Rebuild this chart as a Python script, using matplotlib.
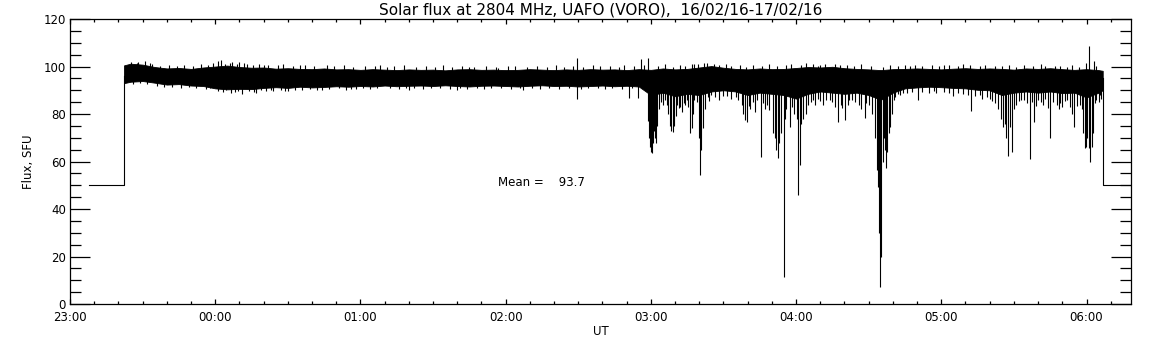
import matplotlib
matplotlib.use("Agg")
import matplotlib.pyplot as plt
from matplotlib.ticker import MultipleLocator

# time axis: minutes after 23:00 UT (16/02/16)
lead_t = [7.9, 22.3, 22.3]
lead_v = [50, 50, 96]
tail_t = [426.7, 426.7, 450]
tail_v = [95, 50, 50]

# envelope of the noise band
band_t = [22.3, 25, 30, 35, 40, 45, 50, 55, 60, 65, 70, 75, 80, 85, 90, 95,
          100, 105, 110, 115, 120, 125, 130, 135, 140, 145, 150, 155, 160, 165,
          170, 175, 180, 185, 190, 195, 200, 205, 210, 215, 220, 225, 230, 235,
          240, 245, 250, 255, 260, 265, 270, 275, 280, 285, 290, 295, 300, 305,
          310, 315, 320, 325, 330, 335, 340, 345, 350, 355, 360, 365, 370, 375,
          380, 385, 390, 395, 400, 405, 410, 415, 420, 425, 426.7]
band_hi = [100.5, 101.2, 100.8, 99.8, 99.2, 99.4, 99.0, 99.6, 100.0, 100.4, 99.8,
           99.5, 99.6, 99.1, 99.3, 99.0, 98.9, 99.2, 98.8, 98.9, 98.6, 98.9, 98.7,
           98.5, 98.8, 98.6, 98.7, 98.4, 98.8, 98.9, 98.6, 98.7, 98.5, 98.6, 98.9,
           98.7, 98.5, 98.8, 98.6, 98.9, 98.7, 98.8, 98.5, 98.9, 98.6, 99.2, 98.8,
           99.0, 99.6, 100.2, 99.5, 99.0, 98.8, 99.2, 98.9, 99.0, 99.4, 99.8, 99.6,
           99.9, 99.3, 99.0, 98.8, 98.5, 98.9, 99.0, 99.2, 99.0, 98.8, 99.1, 99.3,
           99.0, 99.2, 99.0, 98.7, 99.2, 99.0, 99.3, 98.9, 98.6, 98.9, 98.5, 98.2]
band_lo = [93.0, 93.6, 93.9, 93.2, 92.4, 92.6, 92.0, 91.8, 90.8, 90.4, 90.6, 90.5,
           91.0, 91.3, 91.0, 91.5, 91.2, 91.4, 91.7, 91.5, 91.8, 91.6, 92.0, 91.7,
           91.9, 92.0, 91.8, 92.1, 91.8, 91.6, 91.9, 92.0, 91.8, 91.6, 91.9, 92.1,
           91.8, 91.9, 91.6, 91.8, 92.0, 91.7, 91.9, 91.6, 88.0, 89.0, 87.5, 88.5,
           88.0, 89.5, 90.0, 89.5, 88.0, 89.0, 88.5, 88.0, 86.5, 88.5, 89.5, 89.0,
           88.5, 89.0, 88.0, 86.0, 89.0, 90.8, 91.2, 91.5, 91.3, 91.0, 90.8, 90.2,
           90.0, 88.0, 89.0, 89.5, 89.0, 89.5, 88.8, 89.0, 87.0, 89.0, 90.0]

# fine sample-to-sample scatter on the upper edge
fuzz_up_t = [25, 27.5, 31, 34, 37, 41, 44, 47, 51, 54, 57, 59, 61, 64, 67, 69, 72,
             75.5, 78, 82, 86, 88, 92, 97, 101, 106, 109, 113, 117, 122, 126, 131,
             134, 138, 143, 147, 151, 154, 158, 162, 167, 172, 176, 181, 184, 189,
             193, 197, 201, 204, 208, 212, 216, 219, 223, 227, 229, 233, 237,
             243, 246, 249, 252, 254, 257, 259.5, 263, 266, 268, 271, 273, 277,
             279.5, 282, 286, 289, 292, 296, 298, 302, 304, 307, 309, 312, 316,
             321, 324, 327, 331, 336, 339, 342, 345, 349, 352, 356, 359, 363, 367,
             369, 372, 376, 378, 382, 388, 391, 394, 398, 401, 403, 409, 412, 414,
             417, 424]
fuzz_up_v = [102.0, 101.6, 102.2, 101.0, 100.3, 100.6, 100.2, 100.8, 100.4, 100.9,
             100.5, 101.3, 102.5, 101.2, 101.8, 100.9, 101.5, 100.6, 101.2, 100.7,
             100.5, 101.0, 100.4, 100.6, 100.2, 100.8, 100.1, 100.5, 100.0, 100.3,
             100.4, 99.9, 100.2, 100.6, 99.8, 100.3, 100.0, 100.5, 99.9, 100.4,
             100.0, 100.3, 99.8, 100.1, 100.4, 99.9, 100.3, 100.0, 100.5, 99.8,
             100.2, 100.0, 100.6, 100.1, 100.3, 99.9, 100.8, 100.2, 100.6,
             100.4, 101.0, 99.8, 100.6, 100.2, 100.9, 101.2, 101.6, 101.0, 100.6,
             101.1, 100.3, 100.5, 100.0, 100.7, 100.4, 100.9, 100.2, 100.8, 101.2,
             100.6, 101.3, 101.0, 100.4, 101.1, 101.2, 100.8, 100.3, 100.9, 100.2,
             100.0, 100.6, 100.2, 100.6, 100.8, 100.3, 100.6, 100.1, 100.7, 100.4,
             101.0, 100.5, 100.2, 100.8, 100.4, 100.6, 100.0, 100.7, 100.3, 100.9,
             100.2, 100.4, 100.0, 100.6, 99.9, 100.2]

# fine sample-to-sample scatter on the lower edge
fuzz_dn_t = [26, 29, 32, 36, 39, 42, 46, 49, 52, 56, 58, 61, 63, 64.5, 68, 69.5,
             74, 77, 79, 81, 83, 87, 89, 93, 96, 99, 102, 107, 111, 114, 116, 121,
             124, 127, 132, 136, 139, 142, 146, 149, 153, 157, 161, 164, 168, 171,
             174, 178, 182, 186, 191, 194, 198, 202, 206, 211, 214, 218, 221, 224,
             228, 232, 237,
             244, 246.5, 251.5, 253.5, 255.5, 258, 263.5, 264, 266.5, 268, 271.5,
             273, 276, 277.5, 280.5, 282, 284, 286.5, 287, 289, 296, 298.5, 306,
             308, 309, 311, 312.5, 315, 316, 319, 321.5, 322, 324.5, 327, 329,
             341, 342, 344, 346, 348, 352, 355, 357, 361, 363, 367, 369, 371, 374,
             377, 379, 381, 382, 391, 392, 394, 395.5, 397.5, 399, 400, 402, 404,
             406, 408.5, 409, 411, 413, 414, 416, 418, 423.5, 425, 426]
fuzz_dn_v = [92.6, 93.0, 92.8, 92.0, 91.4, 91.5, 91.0, 91.3, 90.8, 90.5, 90.9,
             89.6, 89.3, 90.0, 89.2, 89.8, 89.6, 89.0, 90.0, 89.7, 90.2, 90.0,
             89.5, 90.3, 90.1, 90.6, 90.0, 90.4, 90.8, 90.2, 90.6, 90.9, 90.4,
             90.8, 91.0, 90.5, 90.8, 91.0, 90.6, 90.9, 91.1, 90.7, 91.0, 90.6,
             90.9, 90.4, 91.0, 90.8, 90.5, 90.9, 91.0, 90.6, 90.9, 90.7, 91.0,
             90.5, 90.8, 91.0, 90.6, 90.9, 90.5, 90.8, 90.4,
             86.5, 84.0, 82.5, 84.5, 83.0, 86.0, 87.0, 85.5, 87.2, 86.0, 87.5,
             86.5, 85.8, 84.0, 83.5, 85.0, 86.0, 84.5, 82.0, 81.5, 82.0, 83.0, 85.0,
             84.0, 86.5, 84.0, 86.0, 85.0, 83.0, 82.5, 84.0, 86.0, 85.0, 82.0, 84.5,
             87.0, 88.5, 89.0, 88.8, 89.2, 89.3, 88.8, 89.6, 89.2, 88.9, 89.0,
             88.5, 88.0, 87.5, 86.5, 87.0, 85.5, 84.5, 84.0, 85.5, 86.0, 84.5,
             85.0, 83.5, 86.0, 84.0, 82.5, 85.0, 82.0, 84.5, 85.5, 83.0, 80.0,
             83.5, 82.0, 84.5, 85.0, 86.5]

# isolated spikes and dips (radio interference)
spike_t = [28, 33, 62.5, 66, 70, 73, 80, 95, 128, 165, 177, 209.4, 236, 238.8,
           258, 262, 310, 318, 347, 361, 385, 407, 419.8, 421.2, 423,
           66.5, 71, 76, 84, 90, 104, 118, 140, 160, 187, 209.6, 231, 234.7,
           239.0, 239.4, 239.8, 240.2, 240.6, 241.0, 241.4, 241.8, 242.2, 242.6,
           243.2, 244.2, 245.0, 246.0, 247.2, 247.8, 248.4, 249.0, 249.6, 250.2,
           251, 252, 253, 254, 255, 256.2, 256.8, 257.6, 259, 260.0, 260.4, 260.9,
           261.5, 262.2, 265, 270, 275, 278.1, 279, 279.8, 281, 283.1, 285.5, 288,
           290.5, 291.2, 291.8, 292.4, 293, 293.6, 294.8, 295.5, 297.5, 299, 300.4,
           300.8, 301.5, 302.2, 303, 304, 305, 307, 310, 314, 317.4, 318.5, 320.2,
           323, 326, 328.5, 330, 331.5, 332.5, 333.3, 334.0, 334.4, 334.7, 335.2,
           335.8, 336.4, 336.8, 337.2, 337.6, 338.3, 338.8, 339.5, 340.5, 343,
           350.5, 358, 365, 372.2, 376, 380, 383.5, 384.5, 385.5, 386.2, 386.8,
           387.7, 388.4, 389.1, 390, 393, 396.7, 398.3, 401, 403, 405, 407.9, 410,
           412, 415, 417.4, 418.6, 419.2, 419.8, 420.4, 421.0, 421.5, 422.1, 422.7,
           424, 425.5]
spike_v = [101.8, 101.5, 102.7, 101.5, 101.8, 101.0, 100.8, 100.5, 100.7, 100.0,
           99.5, 103.4, 103.0, 103.4, 101.0, 101.5, 100.5, 100.8, 100.2, 100.5,
           100.3, 100.3, 101.5, 108.6, 102.5,
           89.0, 88.5, 89.3, 89.5, 89.8, 90.0, 90.5, 90.3, 90.2, 90.2, 86.2, 86.7, 86.7,
           77, 70, 66, 64, 63.7, 68, 73, 70, 68, 75,
           82, 85, 84, 86, 80, 75, 73, 72.5, 75, 79,
           84, 83, 81, 84, 86, 72, 74, 80, 85, 70, 54.5, 65,
           74, 82, 88, 87.5, 87, 80, 77.5, 76.8, 82, 81, 62, 84,
           72, 70, 65, 61.5, 68, 72, 11.5, 78, 74.5, 80, 78,
           46, 58.5, 76, 78, 80, 84, 86, 85.5, 86, 76.8, 84, 77.5,
           86, 84, 78.5, 84, 80, 70, 56.4, 49.2, 30, 7.3, 20,
           60, 70, 64.8, 57.2, 64, 72, 74.6, 80, 86, 88,
           85.9, 89, 87.5, 81.4, 88, 86.5, 82, 78, 74.6, 76, 70,
           62.5, 74.6, 64, 82, 86, 60.9, 76.8, 85, 86.5, 70, 84, 83,
           86, 74.5, 84, 72, 65.5, 66, 70, 65.5, 59.7, 66, 72,
           86, 88]

mean_flux = 93.7
x_ticks = [0, 60, 120, 180, 240, 300, 360, 420]
x_labels = ["23:00", "00:00", "01:00", "02:00", "03:00", "04:00", "05:00", "06:00"]

fig = plt.figure(figsize=(11.52, 3.45), dpi=100)
ax = fig.add_axes([0.0608, 0.1188, 0.921, 0.826])

ax.fill_between(band_t, band_lo, band_hi, color="black", linewidth=0.6)
ax.vlines(fuzz_up_t, 95, fuzz_up_v, color="black", linewidth=0.8)
ax.vlines(fuzz_dn_t, 95, fuzz_dn_v, color="black", linewidth=0.8)
ax.vlines(spike_t, 95, spike_v, color="black", linewidth=0.8)
ax.plot(lead_t, lead_v, color="black", linewidth=0.8)
ax.plot(tail_t, tail_v, color="black", linewidth=0.8)

ax.set_xlim(0, 438.4)
ax.set_ylim(0, 120)
ax.set_xticks(x_ticks)
ax.set_xticklabels(x_labels)
ax.xaxis.set_minor_locator(MultipleLocator(10))
ax.yaxis.set_major_locator(MultipleLocator(20))
ax.yaxis.set_minor_locator(MultipleLocator(5))

ax.tick_params(axis="both", which="both", direction="in", top=True, right=True,
               labelsize=8.5, width=0.9)
ax.tick_params(axis="x", which="major", length=3.6, pad=5)
ax.tick_params(axis="x", which="minor", length=2.2)
ax.tick_params(axis="y", which="major", length=14.4, pad=3)
ax.tick_params(axis="y", which="minor", length=7.9)
for s in ax.spines.values():
    s.set_linewidth(0.9)

ax.set_xlabel("UT", fontsize=8.5, labelpad=1)
ax.set_ylabel("Flux, SFU", fontsize=8.5, labelpad=6)
ax.set_title("Solar flux at 2804 MHz, UAFO (VORO),  16/02/16-17/02/16",
             fontsize=11, pad=3)
ax.text(176.9, 51, "Mean =    %.1f" % mean_flux, fontsize=8.5, ha="left", va="center")

fig.savefig("out.png", dpi=100)
